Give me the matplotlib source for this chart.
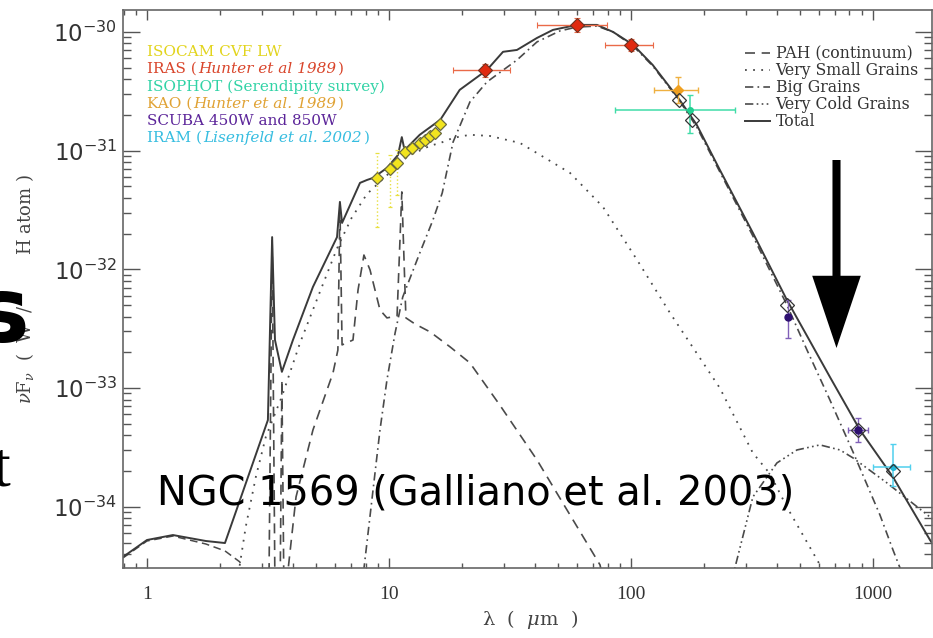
import matplotlib
matplotlib.use('Agg')
import numpy as np
import matplotlib.pyplot as plt
from matplotlib.patches import FancyArrowPatch, ArrowStyle
from matplotlib.offsetbox import TextArea, HPacker, VPacker, AnchoredOffsetbox
import matplotlib.ticker as mticker

# model components: wavelength (micron), nuFnu (W / H atom)
total_wl = [0.796, 1.00, 1.28, 1.75, 2.10, 3.16, 3.29, 3.38, 3.61, 4.01, 4.85, 6.10, 6.27, 6.40,
            7.59, 8.11, 8.59, 9.81, 10.9, 11.3, 11.6, 13.4, 16.3, 19.6, 25.4, 29.6, 33.8, 40.9,
            47.6, 59.8, 72.4, 84.3, 102, 123, 159, 187, 233, 319, 441, 534, 664, 884, 1210, 1721, 1760]
total_f = [3.78e-35, 5.25e-35, 5.78e-35, 5.15e-35, 4.95e-35, 5.38e-34, 1.87e-32, 2.54e-33, 1.37e-33,
           2.54e-33, 7.11e-33, 1.87e-32, 3.70e-32, 2.46e-32, 5.35e-32, 5.66e-32, 5.89e-32, 7.15e-32,
           9.2e-32, 1.30e-31, 1.01e-31, 1.36e-31, 1.82e-31, 3.25e-31, 4.78e-31, 6.8e-31, 7.05e-31,
           8.9e-31, 1.04e-30, 1.146e-30, 1.146e-30, 1.0e-30, 7.8e-31, 5.27e-31, 2.67e-31, 1.65e-31,
           6.88e-32, 2.03e-32, 5.52e-33, 2.75e-33, 1.24e-33, 4.43e-34, 1.78e-34, 5.25e-35, 4.9e-35]

pah_wl = [3.19, 3.29, 3.38, 3.55, 3.61, 3.68, 3.75, 4.13, 4.85, 5.87, 6.15, 6.27, 6.40, 7.10, 7.45,
          7.88, 8.35, 9.18, 9.81, 10.8, 11.3, 11.75, 12.8, 14.8, 17.9, 21.6, 28.7, 40.9, 56.0, 74.5, 78.3]
pah_f = [2e-35, 1.77e-32, 2e-35, 2e-35, 1.17e-33, 2e-35, 2e-35, 1.21e-34, 4.43e-34, 1.34e-33, 2.09e-33,
         3.49e-32, 2.31e-33, 2.54e-33, 6.7e-33, 1.32e-32, 9.9e-33, 4.55e-33, 3.9e-33, 4.05e-33, 4.49e-32,
         3.9e-33, 3.47e-33, 2.97e-33, 2.22e-33, 1.63e-33, 7.2e-34, 2.48e-34, 8.53e-35, 3.24e-35, 2e-35]

vsg_wl = [2.33, 2.56, 2.82, 3.10, 3.61, 4.29, 5.19, 6.10, 7.0, 8.1, 9.8, 12.0, 14.8, 16.3, 18.4, 21.6,
          26.1, 34.8, 42.1, 56.0, 76.6, 106, 145, 233, 319, 375, 441, 604, 664]
vsg_f = [2e-35, 6.8e-35, 1.8e-34, 3.9e-34, 8.5e-34, 2.4e-33, 6.5e-33, 1.5e-32, 2.7e-32, 4.3e-32, 6.2e-32,
         9.0e-32, 1.10e-31, 1.16e-31, 1.28e-31, 1.36e-31, 1.33e-31, 1.16e-31, 9.2e-32, 6.49e-32, 3.36e-32,
         1.20e-32, 4.29e-33, 1.0e-33, 2.84e-34, 1.9e-34, 9.96e-35, 3.24e-35, 2e-35]

bg_wl = [7.7, 9.18, 9.81, 10.6, 11.4, 13.4, 15.2, 16.6, 18.4, 21.6, 25.4, 33.8, 40.9, 50.9, 59.8, 72.4,
         84.3, 102, 123, 159, 187, 233, 319, 441, 534, 664, 827, 1069, 1210, 1294, 1350]
bg_f = [2e-35, 4.43e-34, 1.17e-33, 2.91e-33, 5.85e-33, 1.37e-32, 2.61e-32, 4.40e-32, 1.18e-31, 2.57e-31,
        3.79e-31, 5.8e-31, 8.24e-31, 1.02e-30, 1.10e-30, 1.12e-30, 1.0e-30, 7.62e-31, 5.17e-31, 2.62e-31,
        1.58e-31, 6.62e-32, 1.91e-32, 5.01e-33, 2.09e-33, 7.94e-34, 2.9e-34, 8.53e-35, 4.33e-35, 3.05e-35, 2e-35]

vcg_wl = [255, 319, 401, 485, 604, 731, 827, 1142, 1721, 1760]
vcg_f = [2e-35, 1.21e-34, 2.34e-34, 3.01e-34, 3.32e-34, 3.01e-34, 2.58e-34, 1.59e-34, 8.2e-35, 7.9e-35]

star_wl = [0.796, 1.00, 1.28, 1.75, 2.10, 2.42, 2.61]
star_f = [3.71e-35, 5.15e-35, 5.67e-35, 4.86e-35, 4.25e-35, 3.43e-35, 2e-35]

model_names = ['PAH (continuum)', 'Very Small Grains', 'Big Grains', 'Very Cold Grains', 'Total']

# observations
isocam_wl = [8.92, 10.1, 10.8, 11.6, 12.4, 13.4, 14.1, 14.8, 15.5, 16.3]
isocam_f = [5.89e-32, 7.02e-32, 7.87e-32, 9.75e-32, 1.05e-31, 1.16e-31, 1.23e-31, 1.33e-31, 1.41e-31, 1.68e-31]
isocam_lo = [2.28e-32, 3.36e-32, 4.24e-32, 8.9e-32, 9.6e-32, 1.06e-31, 1.13e-31, 1.22e-31, 1.30e-31, 1.55e-31]
isocam_hi = [9.6e-32, 9.2e-32, 1.01e-31, 1.07e-31, 1.15e-31, 1.27e-31, 1.34e-31, 1.45e-31, 1.53e-31, 1.82e-31]

iras_wl = [25, 60, 100]
iras_f = [4.78e-31, 1.146e-30, 7.8e-31]
iras_wl_lo = [18.4, 40.9, 78.3]
iras_wl_hi = [31.6, 79.4, 123]
iras_lo = [4.2e-31, 1.0e-30, 6.9e-31]
iras_hi = [5.4e-31, 1.3e-30, 8.8e-31]

isophot_wl = [175]
isophot_f = [2.2e-31]
isophot_wl_lo = [86]
isophot_wl_hi = [268]
isophot_lo = [1.41e-31]
isophot_hi = [2.94e-31]

kao_wl = [156]
kao_f = [3.25e-31]
kao_wl_lo = [125]
kao_wl_hi = [189]
kao_lo = [2.52e-31]
kao_hi = [4.18e-31]

scuba_wl = [445, 867]
scuba_f = [3.97e-33, 4.43e-34]
scuba_wl_lo = [445, 789]
scuba_wl_hi = [445, 953]
scuba_lo = [2.64e-33, 3.5e-34]
scuba_hi = [5.5e-33, 5.6e-34]

iram_wl = [1210]
iram_f = [2.16e-34]
iram_wl_lo = [1000]
iram_wl_hi = [1422]
iram_lo = [1.5e-34]
iram_hi = [3.4e-34]

# model fluxes integrated in the bands (open diamonds)
band_wl = [158, 179, 441, 867, 1210]
band_f = [2.67e-31, 1.82e-31, 5.0e-33, 4.43e-34, 2.0e-34]

instruments = ['ISOCAM CVF LW', 'IRAS (', 'ISOPHOT (Serendipity survey)', 'KAO (', 'SCUBA 450W and 850W', 'IRAM (']
references = ['', 'Hunter et al 1989', '', 'Hunter et al. 1989', '', 'Lisenfeld et al. 2002']
closing = ['', ')', '', ')', '', ')']
inst_colors = ['#e2d41c', '#d9452b', '#31d3a6', '#e0a234', '#5b2499', '#36bde0']

xticks = [1, 10, 100, 1000]
xtick_labels = ['1', '10', '100', '1000']

W, H = 933, 638
fig = plt.figure(figsize=(W / 100, H / 100), dpi=100)
ax = fig.add_axes([123 / W, 1 - 568 / H, (932 - 123) / W, (568 - 10) / H])
ax.set_xscale('log')
ax.set_yscale('log')

lc = '#4a4a4a'
ax.plot(star_wl, star_f, color=lc, lw=1.1, ls=(0, (5, 3)))
l_pah, = ax.plot(pah_wl, pah_f, color=lc, lw=1.2, ls=(0, (6, 4)))
l_vsg, = ax.plot(vsg_wl, vsg_f, color=lc, lw=1.3, ls=(0, (1, 3.5)))
l_bg, = ax.plot(bg_wl, bg_f, color=lc, lw=1.2, ls=(0, (5, 2.5, 1, 2.5)))
l_vcg, = ax.plot(vcg_wl, vcg_f, color=lc, lw=1.2, ls=(0, (5, 2, 1, 2, 1, 2, 1, 2)))
l_tot, = ax.plot(total_wl, total_f, color='#3a3a3a', lw=1.4)


def asym(v, lo, hi):
    v = np.array(v)
    return [v - np.array(lo), np.array(hi) - v]


# ISOCAM
ax.errorbar(isocam_wl, isocam_f, yerr=asym(isocam_f, isocam_lo, isocam_hi), fmt='D', ms=6.5,
            mfc='#f2e41e', mec='#6a6a40', mew=0.9, ecolor='#e8e040', elinewidth=1, capsize=1.5,
            ls='none', zorder=5)
for bar in ax.containers[-1].lines[2]:
    bar.set_linestyle(':')

ax.errorbar(iras_wl, iras_f, xerr=asym(iras_wl, iras_wl_lo, iras_wl_hi), yerr=asym(iras_f, iras_lo, iras_hi),
            fmt='D', ms=7, mfc='#e02a10', mec='#703020', mew=0.8, ecolor='#ea6a48', elinewidth=1,
            capsize=2, zorder=5)
ax.errorbar(kao_wl, kao_f, xerr=asym(kao_wl, kao_wl_lo, kao_wl_hi), yerr=asym(kao_f, kao_lo, kao_hi),
            fmt='D', ms=5, mfc='#f0a020', mec='#f0a020', ecolor='#efb040', elinewidth=1, capsize=2, zorder=5)
ax.errorbar(isophot_wl, isophot_f, xerr=asym(isophot_wl, isophot_wl_lo, isophot_wl_hi),
            yerr=asym(isophot_f, isophot_lo, isophot_hi), fmt='o', ms=4, mfc='#20d090', mec='#20d090',
            ecolor='#40dca8', elinewidth=1.1, capsize=2, zorder=5)
ax.errorbar(scuba_wl, scuba_f, xerr=asym(scuba_wl, scuba_wl_lo, scuba_wl_hi), yerr=asym(scuba_f, scuba_lo, scuba_hi),
            fmt='o', ms=5, mfc='#2e1070', mec='#2e1070', ecolor='#8060b8', elinewidth=1, capsize=2, zorder=5)
ax.errorbar(iram_wl, iram_f, xerr=asym(iram_wl, iram_wl_lo, iram_wl_hi), yerr=asym(iram_f, iram_lo, iram_hi),
            fmt='o', ms=4, mfc='#20b8d8', mec='#20b8d8', ecolor='#50d0ee', elinewidth=1.1, capsize=2, zorder=5)
ax.plot(band_wl, band_f, 'D', ms=7, mfc='none', mec='#333333', mew=0.9, zorder=6)

ax.set_xlim(0.796, 1754)
ax.set_ylim(3.05e-35, 1.53e-30)

ax.set_xticks(xticks, xtick_labels, fontfamily='Liberation Serif', fontsize=14, color='#333333')
ax.xaxis.set_minor_locator(mticker.LogLocator(base=10, subs=np.arange(2, 10)))
ax.xaxis.set_minor_formatter(mticker.NullFormatter())
ax.yaxis.set_major_locator(mticker.LogLocator(base=10, numticks=10))
ax.yaxis.set_minor_locator(mticker.LogLocator(base=10, subs=np.arange(2, 10), numticks=20))
ax.yaxis.set_minor_formatter(mticker.NullFormatter())

tc = '#555555'
ax.tick_params(which='both', direction='in', top=True, right=True, color=tc, width=1)
ax.tick_params(axis='x', which='major', length=7, pad=13)
ax.tick_params(axis='x', which='minor', length=3.5)
ax.tick_params(axis='y', which='major', length=12, pad=4, labelsize=16.5, labelcolor='#333333')
ax.tick_params(axis='y', which='minor', length=6)
for s in ax.spines.values():
    s.set_color('#666666')
    s.set_linewidth(1.2)

ax.set_ylabel(r'$\nu$F$_\nu$  (  W  /         H atom )', fontfamily='DejaVu Serif', fontsize=13,
              color='#444444', math_fontfamily='dejavuserif')
ax.yaxis.set_label_coords(-0.108, 0.5)
ax.set_xlabel(r'λ  (  $\mu$m  )', fontfamily='DejaVu Serif', fontsize=14, color='#444444',
              math_fontfamily='dejavuserif')
ax.xaxis.set_label_coords(0.503, -0.072)

# model legend on the right
ax.legend([l_pah, l_vsg, l_bg, l_vcg, l_tot], model_names, loc='upper left',
          bbox_to_anchor=(745 / W, 1 - 45 / H), bbox_transform=fig.transFigure, frameon=False,
          borderpad=0, borderaxespad=0, labelspacing=0.0, handlelength=1.6, handletextpad=0.35,
          prop={'family': 'DejaVu Serif', 'size': 11.3}, labelcolor='#333333')

# instrument legend on the left
rows = []
for name, ref, end, col in zip(instruments, references, closing, inst_colors):
    parts = [TextArea(name, textprops=dict(color=col, family='DejaVu Serif', size=11))]
    if ref:
        parts.append(TextArea(ref, textprops=dict(color=col, family='DejaVu Serif', size=11, style='italic')))
        parts.append(TextArea(end, textprops=dict(color=col, family='DejaVu Serif', size=11)))
    rows.append(HPacker(children=parts, align='baseline', pad=0, sep=1))
box = VPacker(children=rows, align='left', pad=0, sep=2.2)
ax.add_artist(AnchoredOffsetbox(loc='upper left', child=box, pad=0, borderpad=0, frameon=False,
                                bbox_to_anchor=(147 / W, 1 - 45 / H), bbox_transform=fig.transFigure))

# slide overlays
fig.text(157 / W, 1 - 505 / H, 'NGC 1569 (Galliano et al. 2003)', fontsize=28.7,
         family='DejaVu Sans', ha='left', va='baseline', zorder=10)
fig.text(29 / W, 1 - 342 / H, 's', fontsize=65, fontweight='bold', family='DejaVu Sans',
         ha='right', va='baseline', zorder=10)
fig.text(-8 / W, 1 - 485 / H, 't', fontsize=46, family='Liberation Serif', ha='left',
         va='baseline', zorder=10)
arrow = FancyArrowPatch(posA=(836.5 / W, 1 - 160 / H), posB=(836.5 / W, 1 - 348 / H),
                        transform=fig.transFigure, mutation_scale=1, shrinkA=0, shrinkB=0,
                        arrowstyle=ArrowStyle('simple', head_length=52, head_width=35, tail_width=5.8),
                        color='black', lw=0, zorder=10)
fig.add_artist(arrow)

fig.savefig('out.png', dpi=100)
